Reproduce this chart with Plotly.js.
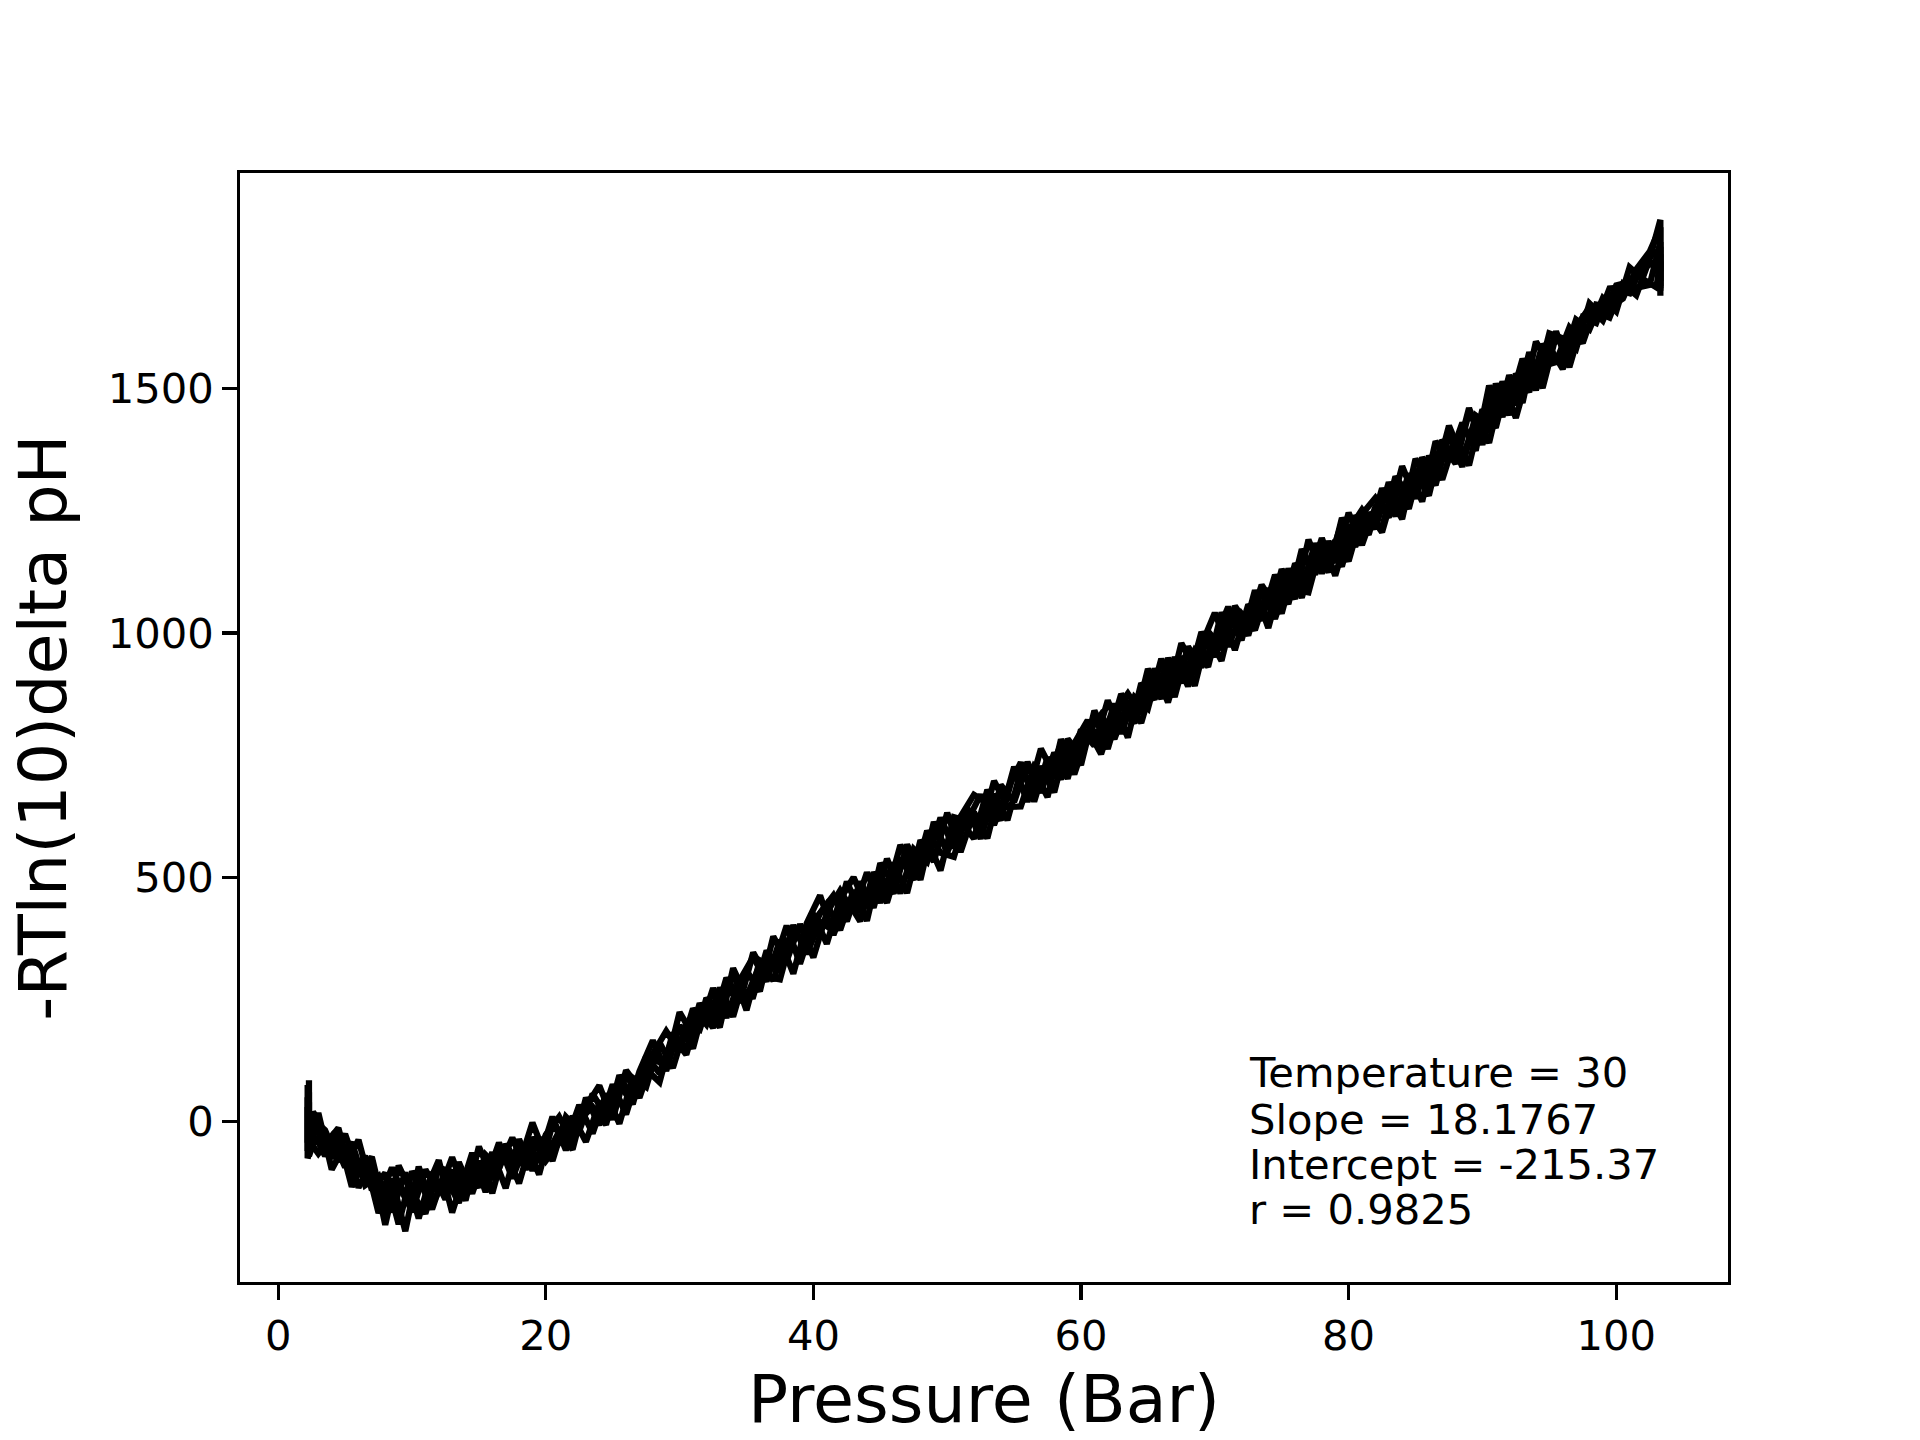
<!DOCTYPE html>
<html>
<head>
<meta charset="utf-8">
<script src="https://cdn.plot.ly/plotly-3.0.1.min.js"></script>
<style>
    html, body { margin: 0; padding: 0; background: #fff; }
    #chart { width: 1920px; height: 1440px; }
</style>
</head>
<body>
<div id="chart"></div>
<script>
// pressure readings (Bar), two sampling grids
const pressureA = [2.2, 2.2, 2.6,
    3, 4, 5, 6, 7, 8, 9, 10, 11, 12,
    13, 14, 15, 16, 17, 18, 19, 20, 21, 22,
    23, 24, 25, 26, 27, 28, 29, 30, 31, 32,
    33, 34, 35, 36, 37, 38, 39, 40, 41, 42,
    43, 44, 45, 46, 47, 48, 49, 50, 51, 52,
    53, 54, 55, 56, 57, 58, 59, 60, 61, 62,
    63, 64, 65, 66, 67, 68, 69, 70, 71, 72,
    73, 74, 75, 76, 77, 78, 79, 80, 81, 82,
    83, 84, 85, 86, 87, 88, 89, 90, 91, 92,
    93, 94, 95, 96, 97, 98, 99, 100, 101, 102,
    103, 103.3, 103.3];

const pressureB = [2.3, 2.3, 2.8,
    3.5, 4.5, 5.5, 6.5, 7.5, 8.5, 9.5, 10.5, 11.5, 12.5,
    13.5, 14.5, 15.5, 16.5, 17.5, 18.5, 19.5, 20.5, 21.5, 22.5,
    23.5, 24.5, 25.5, 26.5, 27.5, 28.5, 29.5, 30.5, 31.5, 32.5,
    33.5, 34.5, 35.5, 36.5, 37.5, 38.5, 39.5, 40.5, 41.5, 42.5,
    43.5, 44.5, 45.5, 46.5, 47.5, 48.5, 49.5, 50.5, 51.5, 52.5,
    53.5, 54.5, 55.5, 56.5, 57.5, 58.5, 59.5, 60.5, 61.5, 62.5,
    63.5, 64.5, 65.5, 66.5, 67.5, 68.5, 69.5, 70.5, 71.5, 72.5,
    73.5, 74.5, 75.5, 76.5, 77.5, 78.5, 79.5, 80.5, 81.5, 82.5,
    83.5, 84.5, 85.5, 86.5, 87.5, 88.5, 89.5, 90.5, 91.5, 92.5,
    93.5, 94.5, 95.5, 96.5, 97.5, 98.5, 99.5, 100.5, 101.5, 102.5,
    103.3, 103.3];

// -RTln(10)delta pH for each run
const run1 = [75, -60, 20,
    3, -75, -25, -105, -72, -188, -120, -185, -98, -147,
    -73, -146, -81, -146, -46, -89, -2, -72, -20, -57,
    49, -7, 76, 15, 103, 166, 104, 197, 150, 253,
    220, 305, 228, 330, 316, 401, 323, 408, 445, 392,
    473, 411, 529, 485, 558, 495, 613, 551, 615, 579,
    679, 626, 726, 655, 727, 674, 783, 748, 832, 763,
    857, 815, 926, 884, 950, 891, 975, 1041, 972, 1039,
    1006, 1091, 1040, 1142, 1110, 1194, 1117, 1210, 1252, 1213,
    1308, 1251, 1329, 1281, 1395, 1355, 1460, 1385, 1483, 1464,
    1561, 1497, 1586, 1540, 1626, 1666, 1639, 1703, 1695, 1755,
    1782, 1700, 1790];

const run2 = [40, -70, -30,
    -70, -28, -133, -77, -187, -117, -224, -92, -171, -113,
    -166, -79, -121, -43, -116, -45, -108, -5, -43, 34,
    -24, 57, -4, 90, 71, 162, 110, 200, 188, 273,
    213, 289, 337, 287, 372, 303, 406, 463, 382, 455,
    410, 510, 466, 566, 513, 577, 514, 623, 615, 669,
    607, 680, 735, 655, 745, 701, 774, 821, 770, 855,
    786, 897, 864, 948, 898, 964, 931, 1042, 965, 1058,
    1026, 1119, 1059, 1171, 1120, 1187, 1136, 1240, 1201, 1296,
    1239, 1326, 1269, 1392, 1352, 1430, 1373, 1506, 1442, 1530,
    1493, 1591, 1554, 1625, 1593, 1672, 1667, 1684, 1744, 1780,
    1830, 1720];

const run3 = [50, -40, -50,
    -65, -30, -93, -37, -140, -105, -210, -102, -143, -79,
    -186, -100, -134, -63, -136, -36, -100, -27, 10, -42,
    31, 74, 4, 105, 67, 139, 185, 143, 231, 199,
    274, 215, 309, 267, 379, 329, 404, 336, 427, 473,
    428, 510, 448, 530, 468, 576, 532, 632, 552, 633,
    580, 689, 654, 736, 673, 755, 702, 802, 769, 862,
    794, 869, 845, 947, 869, 972, 930, 987, 1053, 985,
    1087, 1010, 1112, 1070, 1191, 1122, 1189, 1147, 1243, 1276,
    1236, 1341, 1275, 1362, 1314, 1400, 1343, 1457, 1420, 1527,
    1471, 1596, 1550, 1558, 1641, 1621, 1685, 1658, 1748, 1724,
    1707, 1760, 1690];

const run4 = [85, -20, 0,
    -17, -81, -42, -130, -111, -185, -104, -198, -103, -159,
    -83, -147, -68, -96, -33, -98, -33, -80, 10, -19,
    57, 12, 77, 36, 134, 99, 173, 137, 233, 192,
    276, 244, 346, 296, 291, 393, 361, 427, 463, 410,
    491, 438, 538, 467, 558, 532, 622, 560, 642, 579,
    670, 617, 717, 718, 664, 782, 729, 803, 752, 837,
    876, 834, 927, 858, 952, 892, 1003, 970, 1037, 995,
    1089, 1029, 1113, 1090, 1183, 1124, 1235, 1186, 1246, 1206,
    1302, 1254, 1359, 1320, 1424, 1358, 1436, 1389, 1505, 1467,
    1574, 1501, 1608, 1562, 1646, 1634, 1705, 1707, 1706, 1712,
    1800, 1740];

const run5 = [30, -75, -35,
    18, -98, -47, -135, -80, -211, -90, -147, -188, -94,
    -103, -161, -51, -116, -61, -126, -32, -80, -43, 11,
    -41, 38, 22, 96, 49, 130, 113, 224, 177, 235,
    193, 314, 255, 321, 289, 374, 341, 426, 364, 455,
    500, 438, 502, 467, 567, 513, 595, 560, 624, 669,
    652, 617, 717, 664, 763, 710, 774, 730, 841, 781,
    875, 833, 908, 866, 932, 900, 1002, 951, 1035, 1012,
    1060, 1028, 1130, 1088, 1083, 1185, 1144, 1246, 1180, 1258,
    1281, 1233, 1356, 1317, 1386, 1346, 1451, 1403, 1510, 1446,
    1534, 1506, 1613, 1603, 1581, 1674, 1647, 1711, 1718, 1747,
    1760, 1710, 1775];

const run6 = [60, -50, -10,
    -47, -13, -118, -70, -164, -94, -157, -115, -179, -98,
    -151, -64, -144, -66, -94, -52, -78, 10, -58, 4,
    30, -6, 95, 45, 107, 81, 182, 146, 242, 201,
    294, 253, 256, 350, 309, 402, 343, 409, 391, 491,
    428, 492, 448, 539, 495, 595, 550, 542, 633, 597,
    697, 644, 645, 727, 700, 773, 711, 794, 833, 783,
    858, 816, 909, 867, 979, 928, 994, 943, 1055, 1013,
    1098, 1056, 1131, 1072, 1165, 1142, 1226, 1177, 1237, 1215,
    1320, 1281, 1350, 1302, 1406, 1340, 1445, 1425, 1514, 1440,
    1538, 1528, 1617, 1544, 1638, 1657, 1645, 1714, 1691, 1765,
    1845, 1705];

const xTicks = [0, 20, 40, 60, 80, 100];
const yTicks = [0, 500, 1000, 1500];

const statLines = [
    'Temperature = 30',
    'Slope = 18.1767',
    'Intercept = -215.37',
    'r = 0.9825'
];

const FONT = '"DejaVu Sans", "Liberation Sans", sans-serif';

const runs = [
    [pressureA, run1], [pressureB, run2], [pressureA, run3],
    [pressureB, run4], [pressureA, run5], [pressureB, run6]
];

const traces = runs.map(([x, y]) => ({
    x: x,
    y: y,
    type: 'scatter',
    mode: 'lines',
    line: { color: '#000000', width: 6.25 },
    showlegend: false,
    hoverinfo: 'skip'
}));

// 注释文字：每行一个 annotation，控制行距
const statY = [102, 6, -87, -178];
const annotations = statLines.map((txt, i) => ({
    text: txt,
    xref: 'x', yref: 'y',
    x: 72.4, y: statY[i],
    xanchor: 'left', yanchor: 'middle',
    height: 44,
    valign: 'middle',
    showarrow: false,
    font: { family: FONT, size: 41.67, color: '#000' }
}));

const axisCommon = {
    showline: true,
    linecolor: '#000',
    linewidth: 3.33,
    mirror: true,
    showgrid: false,
    zeroline: false,
    ticks: 'outside',
    ticklen: 14.6,
    tickwidth: 3.33,
    tickcolor: '#000',
    tickfont: { family: FONT, size: 41.67, color: '#000' }
};

const layout = {
    width: 1920,
    height: 1440,
    margin: { l: 240, r: 192, t: 173, b: 158, pad: 0 },
    paper_bgcolor: '#ffffff',
    plot_bgcolor: '#ffffff',
    font: { family: FONT, color: '#000' },
    xaxis: {
        ...axisCommon,
        range: [-2.855, 108.355],
        tickmode: 'array',
        tickvals: xTicks,
        ticktext: xTicks.map(String),
        title: { text: 'Pressure (Bar)', font: { family: FONT, size: 66.67, color: '#000' }, standoff: 12 }
    },
    yaxis: {
        ...axisCommon,
        range: [-328, 1941],
        tickmode: 'array',
        tickvals: yTicks,
        ticktext: yTicks.map(String),
        title: { text: '-RTln(10)delta pH', font: { family: FONT, size: 66.67, color: '#000' }, standoff: 20 }
    },
    annotations: annotations,
    hovermode: false
};

Plotly.newPlot('chart', traces, layout, { staticPlot: true, displayModeBar: false });
</script>
</body>
</html>
